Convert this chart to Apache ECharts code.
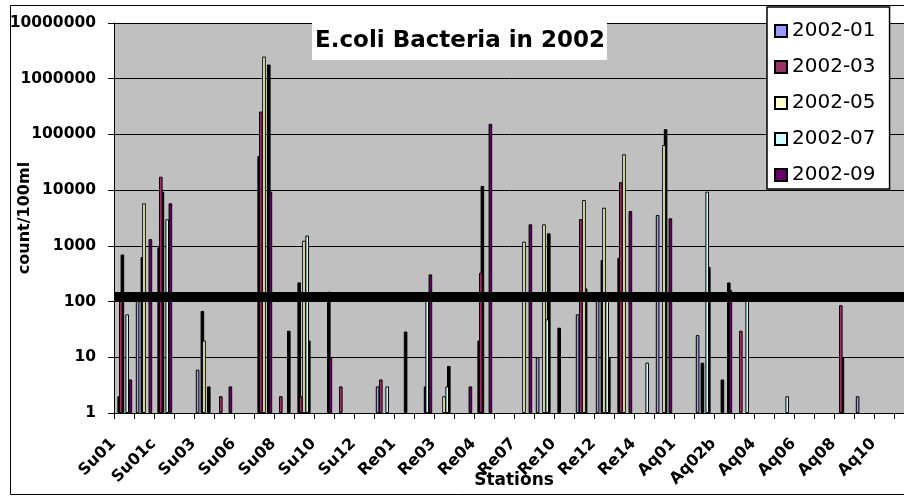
<!DOCTYPE html>
<html><head><meta charset="utf-8">
<script src="https://cdn.jsdelivr.net/npm/echarts@6/dist/echarts.min.js"></script>
<style>html,body{margin:0;padding:0;background:#fff;}#c{width:904px;height:497px;}</style>
</head><body><div id="c"></div>
<script>
const stations = ['Su01','Su01b','Su01c','Su02','Su03','Su05','Su06','Su07','Su08','Su09',
  'Su10','Su11','Su12','Su13','Re01','Re02','Re03','Re03b','Re04','Re05',
  'Re07','Re08','Re10','Re11','Re12','Re13','Re14','Re15','Aq01','Aq02a',
  'Aq02b','Aq03','Aq04','Aq05','Aq06','Aq07','Aq08','Aq09','Aq10','Aq11'];
const yTickLabels = ['1','10','100','1000','10000','100000','1000000','10000000'];
const threshold = 120;

const jan = [null,105,null,null,6,null,null,null,null,null, null,null,null,3,null,null,null,null,null,null,
  null,10,null,59,103,null,null,3580,null,25, null,null,null,null,null,null,null,2,null,null];
const feb = [2,null,940,null,null,null,null,41000,null,221, null,null,null,null,null,null,null,null,20,null,
  null,null,34,null,null,611,null,null,null,null, null,null,null,null,null,null,null,null,null,null];
const mar = [145,null,17400,null,null,2,null,257000,2,2, null,3,null,4,null,null,null,null,329,null,
  null,null,null,3030,null,13900,null,null,null,null, null,30,null,null,null,null,86,null,null,null];
const apr = [700,630,9400,null,68,null,null,null,null,null, null,null,null,null,null,null,null,null,11900,null,
  null,null,null,null,556,null,null,null,null,8, 4,null,null,null,null,null,10,null,null,null];
const may = [null,5800,null,null,20,null,null,2500000,null,1240, null,null,null,null,null,null,2,null,null,null,
  1190,2440,null,6650,4840,44200,null,64600,null,null, null,null,null,null,null,null,null,null,null,null];
const jun = [null,null,null,null,null,null,null,null,null,null, null,null,null,null,29,3,null,null,null,null,
  null,null,null,172,null,null,null,124000,null,null, null,null,null,null,null,null,null,null,null,null];
const jul = [59,null,3000,null,null,null,null,null,null,1530, null,null,null,3,null,106,3,null,null,null,
  null,48,null,null,103,null,8,null,null,9400, null,103,null,2,null,null,null,null,null,null];
const aug = [null,null,null,null,3,null,null,1800000,30,20, 150,null,null,null,null,null,7,null,null,null,
  null,1680,null,null,10,null,null,null,null,420, 220,null,null,null,null,null,null,null,null,null];
const sep = [4,1320,5800,null,null,3,null,9400,null,null, 10,null,null,null,null,307,null,3,155000,null,
  2440,null,null,null,null,4230,null,3120,null,null, 160,null,null,null,null,null,null,null,null,null];

const seriesList = [
  {name:'2002-01', data:jan, color:'#9999FF', inLegend:true},
  {name:'2002-02', data:feb, color:'#000000', inLegend:false},
  {name:'2002-03', data:mar, color:'#993366', inLegend:true},
  {name:'2002-04', data:apr, color:'#000000', inLegend:false},
  {name:'2002-05', data:may, color:'#FFFFCC', inLegend:true},
  {name:'2002-06', data:jun, color:'#000000', inLegend:false},
  {name:'2002-07', data:jul, color:'#CCFFFF', inLegend:true},
  {name:'2002-08', data:aug, color:'#000000', inLegend:false},
  {name:'2002-09', data:sep, color:'#660066', inLegend:true}
];

const FONT = 'DejaVu Sans';
const chart = echarts.init(document.getElementById('c'), null, {renderer:'canvas'});
const series = seriesList.map((s, i) => ({
  type:'bar', name:s.name, data:s.data,
  barWidth:3.6, barGap:'-55.6%',
  z: s.inLegend ? 3 : 2,
  itemStyle:{color:s.color, borderColor:'#000', borderWidth:1},
  emphasis:{disabled:true},
  markLine: i === 0 ? {
    silent:true, symbol:'none', z:10,
    label:{show:false},
    lineStyle:{color:'#000', width:10, type:'solid'},
    data:[{yAxis:threshold}]
  } : undefined
}));

chart.setOption({
  animation:false,
  textStyle:{fontFamily:FONT},
  graphic:[{type:'rect', shape:{x:10.5,y:5.5,width:920,height:489}, style:{fill:null,stroke:'#000',lineWidth:1}, z:0, silent:true}],
  title:{
    text:'E.coli Bacteria in 2002', left:312, top:22, padding:[7,2,7,3],
    backgroundColor:'#fff',
    textStyle:{fontFamily:FONT, fontSize:23, fontWeight:'bold', color:'#000', lineHeight:24}
  },
  legend:{
    data: seriesList.filter(s => s.inLegend).map(s => s.name),
    orient:'vertical', left:767, top:7, padding:[14,14,4,7],
    itemWidth:12, itemHeight:12, itemGap:16,
    backgroundColor:'#fff', borderColor:'#000', borderWidth:1.5, borderRadius:0,
    icon:'rect',
    textStyle:{fontFamily:FONT, fontSize:20, color:'#000', lineHeight:20},
    selectedMode:false
  },
  grid:{left:114, top:23, right:-10, bottom:84, show:true, backgroundColor:'#C0C0C0', borderWidth:0, containLabel:false, outerBoundsMode:'none'},
  xAxis:{
    type:'category', data:stations, boundaryGap:true,
    name:'Stations', nameLocation:'middle', nameGap:59, nameMoveOverlap:false,
    nameTextStyle:{fontFamily:FONT, fontSize:17, fontWeight:'bold', color:'#000'},
    axisLine:{show:true, lineStyle:{color:'#000', width:1}},
    axisTick:{show:true, interval:0, length:6, inside:false, alignWithLabel:false, lineStyle:{color:'#000'}},
    axisLabel:{interval:1, rotate:45, fontFamily:FONT, fontSize:16, fontWeight:'bold', color:'#000',
      align:'right', verticalAlign:'bottom', padding:[0,7,0,0], margin:29},
    splitLine:{show:false}
  },
  yAxis:{
    type:'log', logBase:10, min:1, max:10000000, splitNumber:7,
    name:'count/100ml', nameLocation:'middle', nameGap:81, nameRotate:90, nameMoveOverlap:false,
    nameTextStyle:{fontFamily:FONT, fontSize:16, fontWeight:'bold', color:'#000'},
    axisLine:{show:true, lineStyle:{color:'#000', width:1}},
    axisTick:{show:true, length:6, inside:false, lineStyle:{color:'#000'}},
    axisLabel:{fontFamily:FONT, fontSize:15.5, fontWeight:'bold', color:'#000', margin:18,
      formatter:(v) => yTickLabels[Math.round(Math.log10(v))]},
    splitLine:{show:true, lineStyle:{color:'#000', width:1}},
    minorTick:{show:false}, minorSplitLine:{show:false}
  },
  series: series
});
</script></body></html>
